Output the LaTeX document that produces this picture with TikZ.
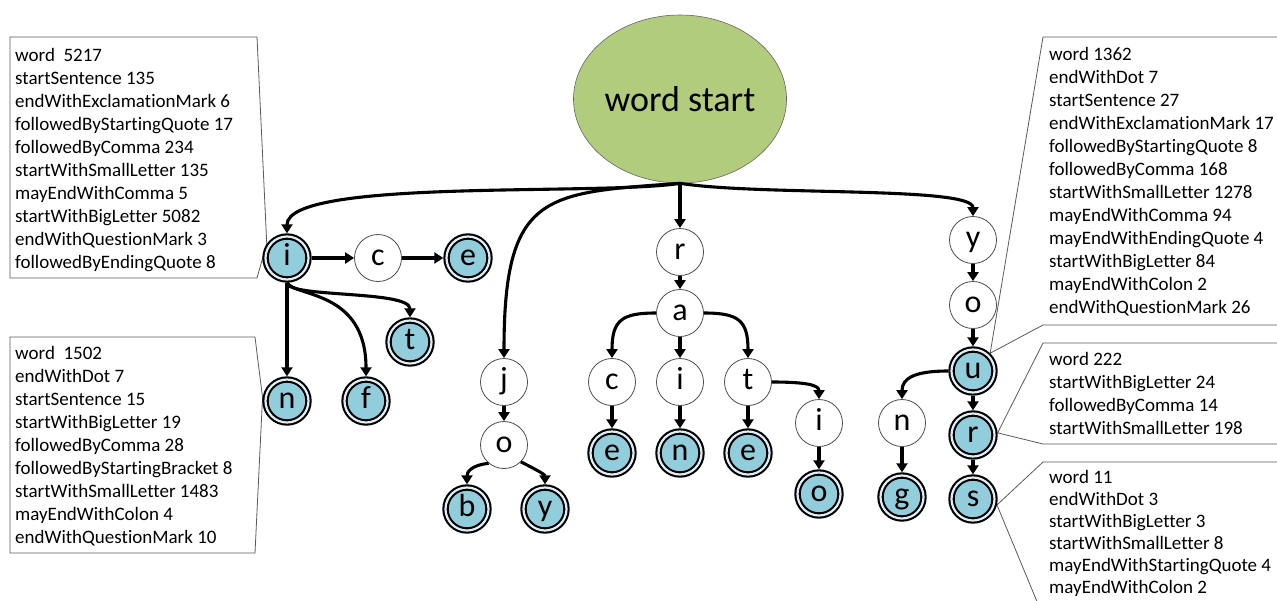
\documentclass[tikz,border=0pt]{standalone}
\usepackage{fontspec}
\setmainfont{Carlito}[Ligatures=NoCommon]
\usetikzlibrary{arrows.meta,shapes.geometric}
\pgfdeclarelayer{background}
\pgfsetlayers{background,main}
\definecolor{rootgreen}{RGB}{178,204,125}
\definecolor{finblue}{HTML}{92CDDC}
\definecolor{ringblue}{HTML}{DDEFF4}
\definecolor{boxline}{RGB}{90,90,90}

\begin{document}
\begin{tikzpicture}[x=1pt,y=-1pt,
  state/.style={circle,draw=black!70,line width=0.8pt,fill=white,
    minimum size=47pt,inner sep=0pt,
    font=\fontsize{32}{32}\selectfont,text height=15pt,text depth=0pt},
  final/.style={circle,draw=black,line width=2.1pt,double=ringblue,
    double distance=2.2pt,fill=finblue,minimum size=43pt,inner sep=0pt,
    outer sep=3.2pt,font=\fontsize{32}{32}\selectfont,text height=15pt,text depth=0pt},
  edge/.style={line width=3.1pt,-{Triangle[length=9pt,width=11pt]}},
  callout/.style={draw=boxline,line width=0.8pt,fill=white},
  info/.style={anchor=north west,inner sep=0pt,align=left,
    font=\fontsize{19}{23}\selectfont}
]
\useasboundingbox (0,0) rectangle (1277,600);

% root of the trie
\node[ellipse,draw=black!60,line width=0.6pt,fill=rootgreen,
  minimum width=186pt,minimum height=168pt,inner sep=0pt,
  font=\fontsize{36}{36}\selectfont] (root) at (680,99) {word start};

% branch i
\node[final] (i) at (287,258) {i};
\node[state] (c) at (378,258) {c};
\node[final] (e) at (468,258) {e};
\node[final] (t) at (410,342) {t};
\node[final] (n) at (287,401) {n};
\node[final] (f) at (366,401) {f};

% branch j
\node[state] (j) at (504,382) {j};
\node[state] (o) at (504,445) {o};
\node[final] (b) at (467,509) {b};
\node[final] (y) at (545,509) {y};

% branch r
\node[state] (r) at (680,252) {r};
\node[state] (a) at (680,313) {a};
\node[state] (c2) at (612,382) {c};
\node[state] (i2) at (680,382) {i};
\node[state] (t2) at (748,382) {t};
\node[final] (e2) at (612,453) {e};
\node[final] (n2) at (680,453) {n};
\node[final] (e3) at (748,453) {e};
\node[state] (i3) at (819,423) {i};
\node[final] (o3) at (819,494) {o};

% branch y
\node[state] (y4) at (973,240) {y};
\node[state] (o4) at (973,305) {o};
\node[final] (u) at (973,371) {u};
\node[final] (r4) at (973,435) {r};
\node[final] (s) at (973,499) {s};
\node[state] (n4) at (902,423) {n};
\node[final] (g) at (902,497) {g};

% transitions
\draw[edge] (root.south) .. controls (600,196) and (287,178) .. (i.north);
\draw[edge] (root.south) .. controls (545,193) and (504,192) .. (j.north);
\draw[edge] (root.south) -- (r.north);
\draw[edge] (root.south) .. controls (760,196) and (973,186) .. (y4.north);

\draw[edge] (i) -- (c);
\draw[edge] (c) -- (e);
\draw[edge] (i) -- (n);
\draw[edge] (i.south) .. controls (287,298) and (410,290) .. (t.north);
\draw[edge] (i.south) .. controls (295,297) and (366,290) .. (f.north);

\draw[edge] (j) -- (o);
\draw[edge] (o.230) .. controls +(-18,2) and +(0,-12) .. (b.north);
\draw[edge] (o.-45) .. controls +(12,6) and +(0,-10) .. (y.north);

\draw[edge] (r) -- (a);
\draw[edge] (a.west) .. controls (622,313) and (612,320) .. (c2.north);
\draw[edge] (a) -- (i2);
\draw[edge] (a.east) .. controls (738,313) and (748,320) .. (t2.north);
\draw[edge] (c2) -- (e2);
\draw[edge] (i2) -- (n2);
\draw[edge] (t2) -- (e3);
\draw[edge] (t2.east) .. controls (806,382) and (819,385) .. (i3.north);
\draw[edge] (i3) -- (o3);

\draw[edge] (y4) -- (o4);
\draw[edge] (o4) -- (u);
\draw[edge] (u) -- (r4);
\draw[edge] (r4) -- (s);
\draw[edge] (u.west) .. controls (915,371) and (902,378) .. (n4.north);
\draw[edge] (n4) -- (g);

% statistics callouts
\begin{pgfonlayer}{background}
\draw[callout] (10,37) -- (257,37) -- (i.145) -- (257,278) -- (10,278) -- cycle;
\draw[callout] (10,337) -- (255,337) -- (n.172) -- (255,553) -- (10,553) -- cycle;
\draw[callout] (1043,37) -- (1290,37) -- (1290,325) -- (1043,325) -- (u.46) -- cycle;
\draw[callout] (1043,343) -- (1290,343) -- (1290,444) -- (1043,444) -- (r4.5) -- cycle;
\draw[callout] (1043,462) -- (1290,462) -- (1290,616) -- (1043,616) -- (s.-14) -- cycle;
\end{pgfonlayer}

\node[info] (si) at (15,48) {word\ \ 5217\\startSentence 135\\endWithExclamationMark 6\\followedByStartingQuote 17\\followedByComma 234\\startWithSmallLetter 135\\mayEndWithComma 5\\startWithBigLetter 5082\\endWithQuestionMark 3\\followedByEndingQuote 8};
\node[info] (sn) at (15,346) {word\ \ 1502\\endWithDot 7\\startSentence 15\\startWithBigLetter 19\\followedByComma 28\\followedByStartingBracket 8\\startWithSmallLetter 1483\\mayEndWithColon 4\\endWithQuestionMark 10};
\node[info] (su) at (1049,47.5) {word 1362\\endWithDot 7\\startSentence 27\\endWithExclamationMark 17\\followedByStartingQuote 8\\followedByComma 168\\startWithSmallLetter 1278\\mayEndWithComma 94\\mayEndWithEndingQuote 4\\startWithBigLetter 84\\mayEndWithColon 2\\endWithQuestionMark 26};
\node[info] (sr) at (1049,352) {word 222\\startWithBigLetter 24\\followedByComma 14\\startWithSmallLetter 198};
\node[info,font=\fontsize{19}{22}\selectfont] (ss) at (1049,470) {word 11\\endWithDot 3\\startWithBigLetter 3\\startWithSmallLetter 8\\mayEndWithStartingQuote 4\\mayEndWithColon 2};
\end{tikzpicture}
\end{document}
